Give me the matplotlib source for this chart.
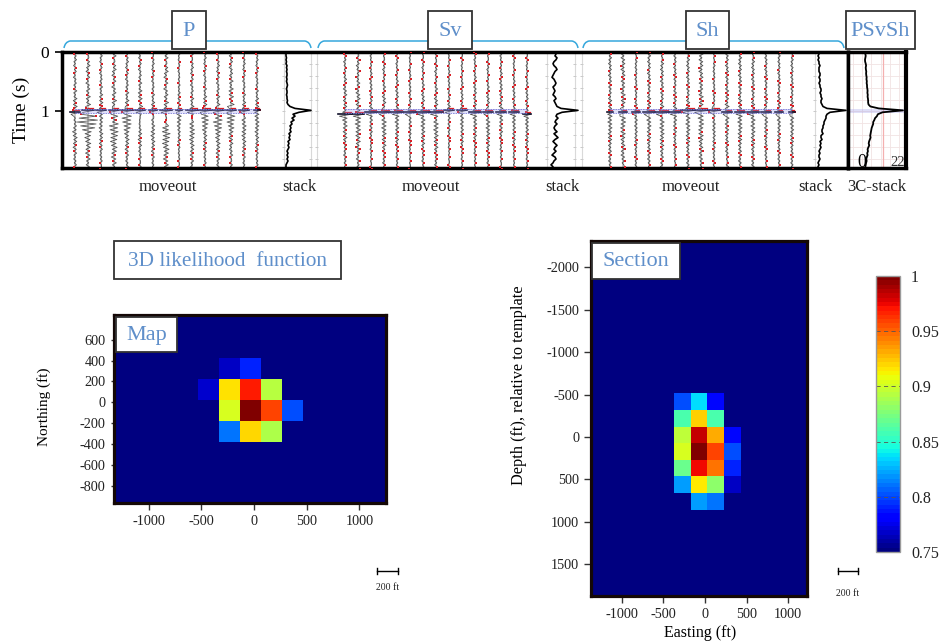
import numpy as np
import matplotlib
matplotlib.use("Agg")
import matplotlib.pyplot as plt
from matplotlib.patches import Rectangle, PathPatch
from matplotlib.path import Path

plt.rcParams['font.family'] = ['Liberation Serif', 'DejaVu Serif']
plt.rcParams['axes.unicode_minus'] = False

W, H = 945, 641
dt = 0.0327

# wiggle samples, same time step for all (amplitude in trace units)
p_wiggle = [0.8,-1.2,1.5,-0.6,1.9,-1.4,0.5,-1.8,1.2,-0.7,
            1.6,-1.1,0.4,-2.0,1.3,-0.5,1.7,-1.5,0.9,-1.0,
            2.2,-1.6,0.7,-1.3,2.4,-2.1,1.1,-1.9,2.6,-1.2,
            1.0,-0.8,3.2,-3.6,2.8,-3.1,3.5,-2.4,3.0,-2.7,
            2.4,-3.0,1.8,-2.2,2.6,-1.5,2.1,-1.9,1.2,-2.3,
            1.6,-1.0,2.0,-1.4,0.7,-1.7,1.3,-0.9,1.8,-1.2,0.6]
sv_wiggle = [0.6,-1.0,1.2,-0.5,0.9,-1.3,0.4,-0.8,1.1,-0.6,
             0.7,-1.1,0.5,-0.9,1.4,-0.7,1.0,-1.2,0.6,-1.5,
             1.3,-0.8,1.6,-1.1,0.7,-1.4,1.2,-0.9,1.5,-1.0,
             0.8,-1.9,2.0,-1.7,1.8,-2.1,1.6,-1.3,1.9,-1.5,
             1.2,-1.6,1.4,-1.0,1.7,-1.3,0.8,-1.2,1.1,-0.7,
             1.0,-0.9,0.6,-1.3,1.2,-0.5,0.9,-0.8,1.1,-0.6,0.5]
sh_wiggle = [1.2,-0.9,1.7,-1.3,0.8,-1.6,1.4,-0.7,1.5,-1.2,
             0.9,-1.7,1.3,-0.6,1.6,-1.1,1.0,-1.5,1.3,-0.8,
             1.4,-1.2,0.7,-1.6,1.8,-1.0,1.2,-1.4,1.6,-1.1,
             0.9,-2.0,2.2,-1.8,1.7,-2.3,1.9,-1.4,2.1,-1.6,
             1.5,-1.9,1.1,-1.7,1.8,-1.2,1.4,-1.6,0.9,-1.3,
             1.5,-1.0,1.2,-1.4,0.8,-1.6,1.3,-0.9,1.2,-0.7,0.6]

p_gain = [0.85,1.1,0.75,1.2,0.85,0.85,0.75,1.2,0.55,0.85,0.75,0.85,1.0,0.75,0.7]
sv_gain = [1.2,1.4,0.85,1.2,1.0,0.75,1.05,1.2,0.7,0.85,1.0,1.0,1.0,0.85,0.85]
sh_gain = [1.0,1.3,0.7,1.0,1.05,0.85,1.0,1.3,0.7,1.0,1.05,1.0,0.85,0.8,0.85]

p_shift = [0,3,-2,5,1,-4,2,6,-3,4,-1,3,-5,2,0]
sv_shift = [0,2,-3,4,1,-2,3,5,-4,2,-1,4,-3,1,2]
sh_shift = [1,-2,3,0,4,-3,2,-1,5,-4,1,3,-2,0,2]

# direct arrival at about 1 s: sample index and amplitude per trace
p_arr_idx = [31,30,30,30,30,30,30,30,30,30,30,30,30,30,30]
sv_arr_idx = [32,32,31,31,31,31,31,31,30,30,31,31,31,31,32]
sh_arr_idx = [31,31,31,31,31,31,30,30,30,31,31,31,31,31,31]
p_arr_amp = [5,6,5,5,6,5,4,6,3,6,6,6,5,5,3]
sv_arr_amp = [7,6,6,6,6,6,7,7,5,5,6,5,5,5,4]
sh_arr_amp = [3,4,4,6,7,6,7,8,6,5,5,6,5,4,3]
arrival_pulse = [-0.35, 1.0, -0.8]

# extra ringing after the arrival, strong on trace 2 of P
p_burst = [5,-6,7,-8,6,-7,5,-4,3,-3]
p_burst_gain = [0.25,1.0,0.1,0.1,0.25,0.3,0.2,0.3,0.05,0.15,0.15,0.25,0.15,0.1,0.05]

# stacks
p_stack = [0.5,1,1,1.5,1,1.5,1,2,1.5,2,
           1.5,2,2,1.5,2,1.5,2,2.5,2,1.5,
           2,2,1.5,2,2,2.5,2,3,5,10,
           26,14,8,10,7,9,6,7,5,6,
           5,6,4,5,4,5,3,4,3,4,
           3,2,3,2,3,2,3,2,1,1,0]
sv_stack = [7,8,7,9,8,6,5,6,8,9,
            7,6,5,4,6,7,8,7,5,6,
            7,6,5,7,8,6,7,8,9,13,
            30,14,9,8,10,8,7,9,7,6,
            7,9,6,8,10,7,5,7,9,7,
            6,8,6,4,7,8,6,5,3,5,4]
sh_stack = [3,4,3,4,3,4,4,5,4,4,
            4,5,5,4,5,5,4,5,5,6,
            6,5,6,6,7,6,6,7,8,12,
            31,15,12,11,11,10,9,9,8,8,
            7,7,8,6,6,7,5,6,5,6,
            5,4,5,4,4,5,4,3,4,3,3]
c3_stack = [1.6,1.8,2.0,1.8,1.6,1.7,2.0,2.2,2.0,2.1,
            2.3,2.2,2.3,2.5,2.4,2.6,2.5,2.7,2.7,2.9,
            3.0,2.9,3.1,3.0,3.2,3.3,3.3,3.5,4.5,9,
            22,11,8.5,8,7,6.6,6,6,5.6,5.2,
            5,4.8,4.6,4.4,4.6,4.2,3.8,3.6,3.9,3.4,
            3.0,3.2,2.8,3.0,2.6,2.3,2.5,2.2,2.0,1.8,1.6]

# likelihood cells, the rest of each grid stays at the 0.75 floor
floor = 0.75
map_cells = [[floor,0.765,0.79,floor,floor],
             [0.767,0.917,0.97,0.893,floor],
             [floor,0.903,1.0,0.959,0.80],
             [floor,0.81,0.92,0.89,floor]]
section_cells = [[0.80,0.835,0.783,floor],
                 [0.86,0.922,0.86,floor],
                 [0.895,0.985,0.932,0.783],
                 [0.903,1.0,0.959,0.80],
                 [0.87,0.975,0.947,0.79],
                 [0.82,0.916,0.88,0.765],
                 [floor,0.82,0.81,floor]]

map_xticks = [-1000,-500,0,500,1000]
map_yticks = [600,400,200,0,-200,-400,-600,-800]
sec_xticks = [-1000,-500,0,500,1000]
sec_yticks = [-2000,-1500,-1000,-500,0,500,1000,1500]
cbar_ticks = [0.75,0.8,0.85,0.9,0.95,1]
cbar_labels = ['0.75','0.8','0.85','0.9','0.95','1']

FRAME = '#140806'
BLUE_TXT = '#5f8fca'
BRACE = '#35a7dc'


def px_axes(fig, left, top, right, bottom, **kw):
    return fig.add_axes([left/W, 1-bottom/H, (right-left)/W, (bottom-top)/H], **kw)


def draw_traces(ax, x0, wiggle, gain, shift, arr_idx, arr_amp, burst=None, burst_gain=None):
    t = np.arange(len(wiggle))*dt
    for i in range(len(gain)):
        x = x0 + i*13
        w = np.roll(np.array(wiggle, dtype=float), shift[i])*gain[i]
        # red picks are scattered over the whole trace
        mask = (np.abs(w) > 0.9*gain[i]) & (np.abs(w) < 1.3*gain[i])
        if burst is not None:
            w[31:31+len(burst)] += np.array(burst)*burst_gain[i]
        k = arr_idx[i]
        w[k-1:k+2] = np.array(arrival_pulse)*arr_amp[i]
        ax.plot([x, x], [0, 1.97], color='#c4c4c4', lw=1.2, zorder=1)
        ax.plot(x+w, t, color='#2e2e2e', lw=0.55, alpha=0.85, zorder=2)
        ax.plot((x+w)[mask], t[mask], ls='none', marker='s', ms=1.5, mew=0, color='#d81f26', zorder=3)
        ax.plot([x, x+arr_amp[i]*0.8], [t[k-1]]*2, color='#d81f26', lw=0.9, zorder=3)
        ax.plot([x-arr_amp[i], x+arr_amp[i]], [t[k]]*2, color='#10102a', lw=1.2, zorder=3)
    ax.fill_between([x0, x0+14*13], 0.96, 1.02, color='#8f8fe8', alpha=0.28, lw=0, zorder=4)
    for yy in (0.96, 1.02):
        ax.plot([x0, x0+14*13], [yy, yy], color='#7b7bdc', lw=0.6, ls=(0, (2, 1)), zorder=4)


fig = plt.figure(figsize=(W/100, H/100), dpi=100)

# seismogram strip
ax = px_axes(fig, 62, 52, 848, 168)
ax.set_xlim(62, 848)
ax.set_ylim(1.95, 0)
draw_traces(ax, 75, p_wiggle, p_gain, p_shift, p_arr_idx, p_arr_amp, p_burst, p_burst_gain)
draw_traces(ax, 345, sv_wiggle, sv_gain, sv_shift, sv_arr_idx, sv_arr_amp)
draw_traces(ax, 610, sh_wiggle, sh_gain, sh_shift, sh_arr_idx, sh_arr_amp)
t = np.arange(61)*dt
for base, stack in [(285, p_stack), (548, sv_stack), (815, sh_stack)]:
    ax.plot(base+np.array(stack), t, color='black', lw=1.2, zorder=5)
for gx in (284, 311, 317, 547, 575, 582, 815):
    ax.axvline(gx, color='#d9d9d9', lw=0.8, zorder=0)
    ax.hlines(np.arange(0.2, 1.9, 0.2), gx-1.5, gx+1.5, color='#c9c9c9', lw=0.7, zorder=0)
ax.set_yticks([0, 1])
ax.set_yticklabels(['0', '1'], fontsize=12.5)
ax.set_xticks([])
ax.tick_params(axis='y', length=5, width=1.2, pad=4)
ax.set_ylabel('Time (s)', fontsize=14, labelpad=8)
for s in ax.spines.values():
    s.set_linewidth(2.5)
    s.set_color('black')

# 3C stack
ax3 = px_axes(fig, 848, 52, 906, 168)
ax3.set_xlim(-7.5, 23.6)
ax3.set_ylim(1.95, 0)
for gx in range(-5, 24, 5):
    ax3.axvline(gx, color='#f1e3e3', lw=0.6, zorder=0)
for gy in np.arange(0.2, 2, 0.2):
    ax3.axhline(gy, color='#f1e3e3', lw=0.6, zorder=0)
ax3.axvline(11, color='#f4b0b0', lw=0.9, zorder=1)
ax3.fill_between([-7.5, 23.6], 0.96, 1.02, color='#8f8fe8', alpha=0.28, lw=0, zorder=2)
ax3.plot(c3_stack, t, color='black', lw=1.3, zorder=5)
ax3.set_xticks([])
ax3.set_yticks([])
ax3.text(0, 1.85, '0', fontsize=13, ha='center', va='center', zorder=6)
ax3.text(19, 1.85, '22', fontsize=10.5, ha='center', va='center', color='#333333', zorder=6)
for s in ax3.spines.values():
    s.set_linewidth(2.5)
    s.set_color('black')
ax3.spines['right'].set_linewidth(3)

# map view
ax_map = px_axes(fig, 114, 315, 386, 503)
map_grid = np.full((10, 15), floor)
map_grid[3:7, 5:10] = np.array(map_cells)
map_x = np.arange(-1535, 1466, 200)
map_y = np.arange(1025, -976, -200)
ax_map.pcolormesh(map_x, map_y, map_grid, cmap='jet', vmin=0.75, vmax=1)
ax_map.set_xlim(-1330, 1253)
ax_map.set_ylim(-962, 835)
ax_map.set_xticks(map_xticks)
ax_map.set_yticks(map_yticks)
ax_map.tick_params(labelsize=10.3, color='#333333', labelcolor='#222222')
ax_map.tick_params(axis='x', length=5, width=1)
ax_map.tick_params(axis='y', length=2.5, width=1)
ax_map.set_ylabel('Northing (ft)', fontsize=11, labelpad=21, y=0.51)
for s in ax_map.spines.values():
    s.set_linewidth(2.3)
    s.set_color(FRAME)

# section view
ax_sec = px_axes(fig, 591, 241, 807, 596)
sec_grid = np.full((23, 15), floor)
sec_grid[10:17, 6:10] = np.array(section_cells)
sec_x = np.arange(-1572, 1429, 200)
sec_y = np.arange(-2475, 2034, 196)
ax_sec.pcolormesh(sec_x, sec_y, sec_grid, cmap='jet', vmin=0.75, vmax=1)
ax_sec.set_xlim(-1370, 1226)
ax_sec.set_ylim(1873, -2308)
ax_sec.set_xticks(sec_xticks)
ax_sec.set_yticks(sec_yticks)
ax_sec.tick_params(labelsize=10.3, length=5, width=1, color='#333333', labelcolor='#222222')
ax_sec.set_xlabel('Easting (ft)', fontsize=11.5, labelpad=3, x=0.505)
ax_sec.set_ylabel('Depth (ft), relative to template', fontsize=11.7, labelpad=14, y=0.594)
for s in ax_sec.spines.values():
    s.set_linewidth(2.3)
    s.set_color(FRAME)

# colour bar
cax = px_axes(fig, 876, 276, 900, 552)
sm = plt.cm.ScalarMappable(norm=plt.Normalize(0.75, 1), cmap=plt.get_cmap('jet', 64))
cb = fig.colorbar(sm, cax=cax, ticks=cbar_ticks)
cb.ax.set_yticklabels(cbar_labels, fontsize=11.5, color='#222222')
cb.ax.tick_params(length=0, pad=8)
cb.outline.set_edgecolor('#9a9a9a')
cb.outline.set_linewidth(1)
cb.ax.hlines(cbar_ticks[1:-1], 0, 1, transform=cb.ax.get_yaxis_transform(), colors='#555555',
             lw=0.6, ls=(0, (5, 4)))

# boxes, braces and small labels are drawn on top in pixel coordinates
ov = fig.add_axes([0, 0, 1, 1], zorder=20)
ov.set_xlim(0, W)
ov.set_ylim(H, 0)
ov.axis('off')
ov.patch.set_alpha(0)


def brace(x1, x2, y=41, drop=7):
    verts = [(x1, y+drop), (x1+1, y+1), (x1+6, y), (x2-6, y), (x2-1, y+1), (x2, y+drop)]
    codes = [Path.MOVETO, Path.CURVE3, Path.CURVE3, Path.LINETO, Path.CURVE3, Path.CURVE3]
    ov.add_patch(PathPatch(Path(verts, codes), fc='none', ec=BRACE, lw=1.1))


def box(x1, y1, x2, y2, label, size=16, color=BLUE_TXT):
    ov.add_patch(Rectangle((x1, y1), x2-x1, y2-y1, fc='white', ec='#333333', lw=1.3))
    ov.text((x1+x2)/2, (y1+y2)/2+1, label, fontsize=size, color=color, ha='center', va='center')


brace(64, 311)
brace(318, 578)
brace(583, 844)
box(172, 11, 206, 49, 'P')
box(428, 11, 472, 49, 'Sv')
box(686, 11, 729, 49, 'Sh')
box(846, 11, 915, 49, 'PSvSh')
box(114, 241, 341, 279, '3D likelihood  function', size=15.3)
box(116, 317, 177, 352, 'Map')
box(592, 243, 680, 279, 'Section')

for x, s in [(168, 'moveout'), (431, 'moveout'), (691, 'moveout'),
             (299, 'stack'), (562, 'stack'), (815, 'stack'), (877, '3C-stack')]:
    ov.text(x, 187, s, fontsize=12, ha='center', va='center', color='#222222')

for x1, x2, y, ty in [(377, 398, 571, 588), (838, 858, 571, 593)]:
    ov.plot([x1, x2], [y, y], color='black', lw=1)
    ov.plot([x1, x1], [y-3, y+3], color='black', lw=1)
    ov.plot([x2, x2], [y-3, y+3], color='black', lw=1)
    ov.text((x1+x2)/2, ty, '200 ft', fontsize=7, ha='center', va='center', color='#222222')

fig.savefig('out.png', dpi=100)
